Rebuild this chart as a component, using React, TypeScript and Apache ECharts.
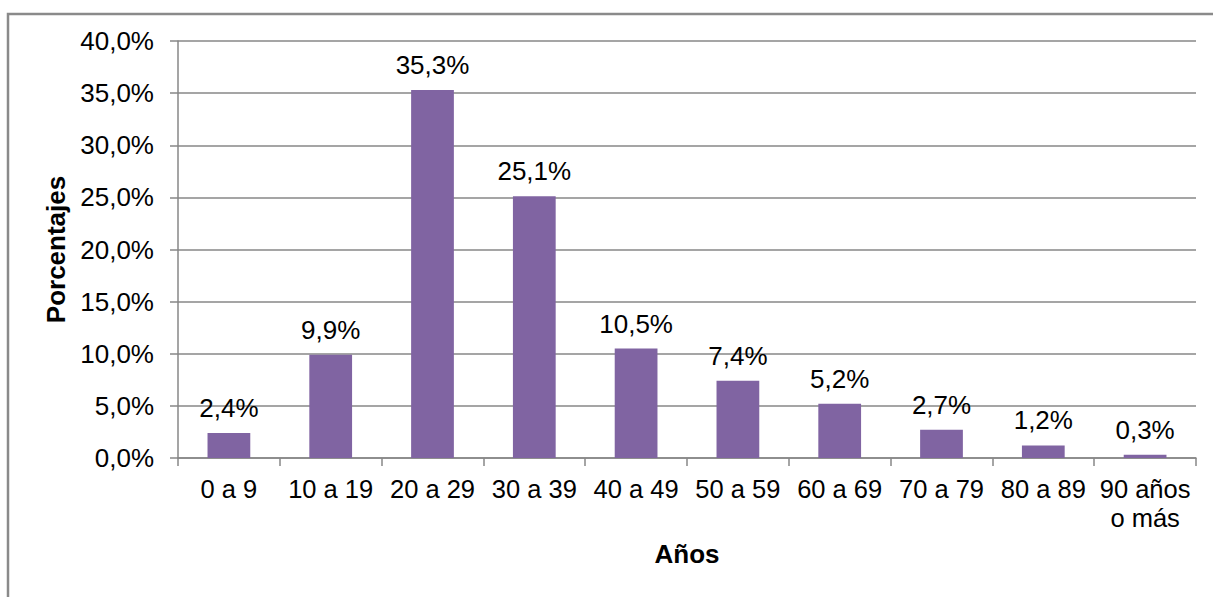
import React, { useEffect, useRef } from "react";
import * as echarts from "echarts";

// Distribución por grupos de edad (porcentajes)
const categories: string[] = [
  "0 a 9",
  "10 a 19",
  "20 a 29",
  "30 a 39",
  "40 a 49",
  "50 a 59",
  "60 a 69",
  "70 a 79",
  "80 a 89",
  "90 años\no más",
];
const percentages: number[] = [2.4, 9.9, 35.3, 25.1, 10.5, 7.4, 5.2, 2.7, 1.2, 0.3];

const yMin = 0;
const yMax = 40;
const yStep = 5;

const FONT = "'Liberation Sans', Arial, sans-serif";
const GRID_GRAY = "#878787";
const BAR_COLOR = "#8064A2";

const fmt = (v: number) => v.toFixed(1).replace(".", ",") + "%";

export default function App() {
  const ref = useRef<HTMLDivElement>(null);

  useEffect(() => {
    if (!ref.current) return;
    const chart = echarts.init(ref.current, undefined, { renderer: "svg" });
    chart.setOption({
      animation: false,
      backgroundColor: "#ffffff",
      textStyle: { fontFamily: FONT },
      grid: { left: 178, right: 17, top: 41, bottom: 139, containLabel: false },
      graphic: [
        {
          type: "rect",
          shape: { x: 8, y: 14, width: 1400, height: 800 },
          style: { fill: "none", stroke: "#8a8a8a", lineWidth: 2.5 },
          silent: true,
        },
      ],
      xAxis: {
        type: "category",
        data: categories,
        name: "Años",
        nameLocation: "middle",
        nameGap: 83,
        nameTextStyle: { fontFamily: FONT, fontSize: 26, fontWeight: "bold", color: "#000" },
        axisLine: { lineStyle: { color: GRID_GRAY, width: 1.5 } },
        axisTick: { show: true, length: 8, lineStyle: { color: GRID_GRAY, width: 1.5 } },
        axisLabel: {
          interval: 0,
          margin: 16,
          fontFamily: FONT,
          fontSize: 25.5,
          lineHeight: 29,
          color: "#000",
        },
      },
      yAxis: {
        type: "value",
        min: yMin,
        max: yMax,
        interval: yStep,
        name: "Porcentajes",
        nameLocation: "middle",
        nameRotate: 90,
        nameGap: 108,
        nameTextStyle: { fontFamily: FONT, fontSize: 26, fontWeight: "bold", color: "#000" },
        axisLine: { show: true, lineStyle: { color: GRID_GRAY, width: 1.5 } },
        axisTick: { show: true, length: 8, lineStyle: { color: GRID_GRAY, width: 1.5 } },
        splitLine: { show: true, lineStyle: { color: GRID_GRAY, width: 1.5 } },
        axisLabel: {
          margin: 24,
          fontFamily: FONT,
          fontSize: 26,
          color: "#000",
          formatter: (v: number) => fmt(v),
        },
      },
      series: [
        {
          type: "bar",
          data: percentages,
          barWidth: "42%",
          itemStyle: { color: BAR_COLOR },
          label: {
            show: true,
            position: "top",
            distance: 12,
            fontFamily: FONT,
            fontSize: 26,
            color: "#000",
            formatter: (p: any) => fmt(p.value),
          },
        },
      ],
    });
    return () => chart.dispose();
  }, []);

  return (
    <div
      ref={ref}
      style={{ position: "absolute", left: 0, top: 0, width: 1213, height: 597 }}
    />
  );
}
